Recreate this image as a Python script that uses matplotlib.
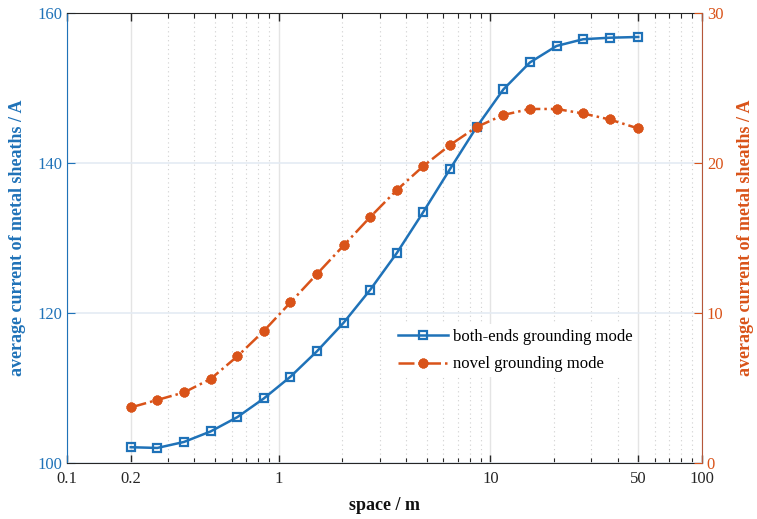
import matplotlib.pyplot as plt
from matplotlib.ticker import FixedLocator, NullFormatter

plt.rcParams['font.family'] = ['Liberation Serif', 'DejaVu Serif']
plt.rcParams['mathtext.fontset'] = 'custom'

# 间距 (m)
space = [0.2, 0.267, 0.357, 0.477, 0.637, 0.851, 1.137, 1.518, 2.028, 2.709,
         3.618, 4.833, 6.455, 8.622, 11.52, 15.38, 20.55, 27.44, 36.66, 50.0]

# 两端接地方式 (左轴, A)
both_ends = [102.1, 102.0, 102.8, 104.2, 106.1, 108.6, 111.5, 114.9, 118.7, 123.1,
             128.0, 133.5, 139.2, 144.8, 149.8, 153.4, 155.6, 156.5, 156.7, 156.8]

# 新型接地方式 (右轴, A)
novel = [3.7, 4.2, 4.7, 5.6, 7.1, 8.8, 10.7, 12.6, 14.5, 16.4,
         18.2, 19.8, 21.2, 22.4, 23.2, 23.6, 23.6, 23.3, 22.9, 22.3]

x_major = [0.1, 0.2, 1, 10, 50, 100]
x_major_labels = ['0.1', '0.2', '1', '10', '50', '100']
x_minor = ([k * 0.1 for k in range(3, 10)] + list(range(2, 10))
           + list(range(20, 100, 10)))

C_BLUE = '#1f72b8'
C_ORANGE = '#D95319'

fig = plt.figure(figsize=(7.57, 5.19), dpi=100)
ax = fig.add_axes([0.0885, 0.108, 0.8388, 0.867])
ax2 = ax.twinx()

l1, = ax.plot(space, both_ends, '-', color=C_BLUE, lw=1.8, marker='s',
              ms=5.5, mfc='none', mec=C_BLUE, mew=1.6,
              label='both-ends grounding mode')
l2, = ax2.plot(space, novel, '-.', color=C_ORANGE, lw=1.8, marker=(8, 2, 0),
               ms=7, mec=C_ORANGE, mew=2.4, label='novel grounding mode')

ax.set_xscale('log')
ax.set_xlim(0.1, 100)
ax.set_ylim(100, 160)
ax2.set_ylim(0, 30)

ax.xaxis.set_major_locator(FixedLocator(x_major))
ax.set_xticklabels(x_major_labels)
ax.xaxis.set_minor_locator(FixedLocator(x_minor))
ax.xaxis.set_minor_formatter(NullFormatter())
ax.set_yticks([100, 120, 140, 160])
ax2.set_yticks([0, 10, 20, 30])

# 网格：主刻度实线，次刻度点线
ax.grid(True, which='major', axis='x', color='#e4e4e4', lw=1.0, ls='-')
ax.grid(True, which='minor', axis='x', color='#d0d0d0', lw=0.8, ls=(0, (1, 3)))
ax.grid(True, which='major', axis='y', color='#e4ebf3', lw=1.2, ls='-')
ax.set_axisbelow(True)

ax.tick_params(axis='x', which='both', direction='in', top=True, labelsize=12,
               colors='#262626', pad=6)
ax.tick_params(axis='x', which='major', length=6, width=1)
ax.tick_params(axis='x', which='minor', length=3.5, width=0.8)
ax.tick_params(axis='y', direction='in', length=6, colors=C_BLUE, labelsize=12)
ax2.tick_params(axis='y', direction='in', length=6, colors=C_ORANGE, labelsize=12)

for s in ['top', 'bottom']:
    ax.spines[s].set_color('#262626')
    ax2.spines[s].set_visible(False)
ax.spines['left'].set_color(C_BLUE)
ax2.spines['left'].set_visible(False)
ax2.spines['right'].set_color('#b5573a')
ax.spines['right'].set_visible(False)

ax.set_xlabel('space / m', fontsize=13, fontweight='bold', color='#111111',
              labelpad=7)
ax.set_ylabel('average current of metal sheaths / A', fontsize=13,
              fontweight='bold', color=C_BLUE, labelpad=8)
ax2.set_ylabel('average current of metal sheaths / A', fontsize=13,
               fontweight='bold', color=C_ORANGE, labelpad=10)

leg = ax2.legend(handles=[l1, l2], loc='upper left', bbox_to_anchor=(0.5, 0.328),
                 frameon=True, fontsize=12, handlelength=3.0, handletextpad=0.3,
                 labelspacing=0.7, borderpad=0.3)
leg.get_frame().set_facecolor('white')
leg.get_frame().set_edgecolor('none')
leg.get_frame().set_alpha(1)

fig.savefig('out.png', dpi=100)
